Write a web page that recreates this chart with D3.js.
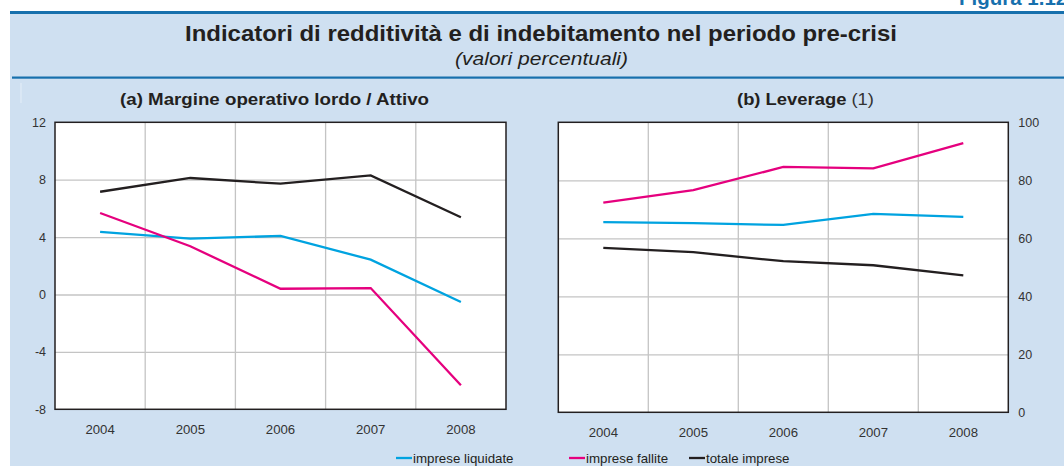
<!DOCTYPE html>
<html><head><meta charset="utf-8">
<script src="https://cdn.jsdelivr.net/npm/d3@7"></script>
<style>
html,body{margin:0;padding:0;background:#fff;}
svg{display:block;}
text{font-family:"Liberation Sans",Arial,sans-serif;}
</style></head>
<body>
<svg id="c" width="1064" height="466"></svg>
<script>
const years = ["2004","2005","2006","2007","2008"];
// (a) Margine operativo lordo / Attivo
const marginLiquidate = [4.36, 3.89, 4.08, 2.43, -0.52];
const marginFallite   = [5.68, 3.36, 0.40, 0.45, -6.33];
const marginTotale    = [7.16, 8.12, 7.72, 8.30, 5.38];
// (b) Leverage
const levLiquidate = [65.6, 65.2, 64.6, 68.4, 67.4];
const levFallite   = [72.3, 76.6, 84.6, 84.1, 92.8];
const levTotale    = [56.7, 55.2, 52.1, 50.7, 47.2];
const ticksA = [-8, -4, 0, 4, 8, 12];
const ticksB = [0, 20, 40, 60, 80, 100];
const seriesNames = ["imprese liquidate", "imprese fallite", "totale imprese"];
const colors = ["#00a3e0", "#e5007e", "#231f20"];

const svg = d3.select("#c");
const ink = "#231f20";
const blue = "#1770ad";

// header
svg.append("text").attr("x", 959).attr("y", 5).attr("font-size", 20.5).attr("font-weight", "bold")
  .attr("fill", blue).text("Figura 1.12");
svg.append("rect").attr("x", 10).attr("y", 14).attr("width", 1054).attr("height", 452).attr("fill", "#cfe0f1");
svg.append("rect").attr("x", 10).attr("y", 11).attr("width", 1054).attr("height", 3).attr("fill", blue);
svg.append("rect").attr("x", 12).attr("y", 76.5).attr("width", 1052).attr("height", 2.2).attr("fill", blue);
svg.append("line").attr("x1", 21).attr("x2", 21).attr("y1", 83).attr("y2", 103).attr("stroke", "#e4eef8").attr("stroke-width", 1);

function fitText(sel, w) {
  const n = sel.node();
  const l = n.getComputedTextLength();
  if (Math.abs(l - w) > 2) sel.attr("textLength", w).attr("lengthAdjust", "spacingAndGlyphs");
}

const t = svg.append("text").attr("x", 541).attr("y", 41).attr("text-anchor", "middle")
  .attr("font-size", 21.5).attr("font-weight", "bold").attr("fill", ink)
  .text("Indicatori di redditività e di indebitamento nel periodo pre-crisi");
fitText(t, 712);
const st = svg.append("text").attr("x", 541.5).attr("y", 65).attr("text-anchor", "middle")
  .attr("font-size", 17.5).attr("font-style", "italic").attr("fill", ink)
  .text("(valori percentuali)");
fitText(st, 173);

const pa = svg.append("text").attr("x", 274.5).attr("y", 105).attr("text-anchor", "middle")
  .attr("font-size", 16).attr("font-weight", "bold").attr("fill", ink)
  .text("(a) Margine operativo lordo / Attivo");
fitText(pa, 309);
const pb = svg.append("text").attr("x", 805.5).attr("y", 105).attr("text-anchor", "middle")
  .attr("font-size", 16).attr("fill", ink);
pb.append("tspan").attr("font-weight", "bold").text("(b) Leverage ");
pb.append("tspan").attr("fill", "#333").text("(1)");
fitText(pb, 137);

function panel(x0, x1, y0, y1, domain, ticks, data, side) {
  const x = d3.scaleBand().domain(years).range([x0, x1]).padding(0);
  const y = d3.scaleLinear().domain(domain).range([y1, y0]);
  const g = svg.append("g");
  g.append("rect").attr("x", x0).attr("y", y0).attr("width", x1 - x0).attr("height", y1 - y0).attr("fill", "#fff");
  // horizontal grid
  g.append("g").attr("transform", `translate(${x0},0)`)
    .call(d3.axisLeft(y).tickValues(ticks.slice(1, -1)).tickSize(-(x1 - x0)).tickFormat(""))
    .call(s => s.select(".domain").remove())
    .call(s => s.selectAll("line").attr("stroke", "#c4c4c4").attr("stroke-width", 1.3));
  // vertical grid at band boundaries
  g.selectAll("line.vg").data(years.slice(1)).join("line").attr("class", "vg")
    .attr("x1", d => x(d)).attr("x2", d => x(d)).attr("y1", y0).attr("y2", y1)
    .attr("stroke", "#c4c4c4").attr("stroke-width", 1.3);
  // tick labels
  const fmt = d => String(d);
  const ax = side === "left"
    ? d3.axisLeft(y).tickValues(ticks).tickSize(0).tickPadding(9).tickFormat(fmt)
    : d3.axisRight(y).tickValues(ticks).tickSize(0).tickPadding(10).tickFormat(fmt);
  g.append("g").attr("transform", `translate(${side === "left" ? x0 : x1},0)`)
    .call(ax)
    .call(s => s.select(".domain").remove())
    .call(s => s.selectAll("text").attr("font-size", 12.5).attr("fill", "#333")
      .attr("font-family", "'Liberation Sans',Arial,sans-serif"));
  g.append("g").attr("transform", `translate(0,${y1})`)
    .call(d3.axisBottom(x).tickSize(0).tickPadding(15))
    .call(s => s.select(".domain").remove())
    .call(s => s.selectAll("text").attr("font-size", 13.2).attr("fill", "#333")
      .attr("font-family", "'Liberation Sans',Arial,sans-serif"));
  // lines
  const line = d3.line().x((d, i) => x(years[i]) + x.bandwidth() / 2).y(d => y(d));
  data.forEach((vals, k) => {
    g.append("path").attr("d", line(vals)).attr("fill", "none").attr("stroke", colors[k])
      .attr("stroke-width", 2.3).attr("stroke-linejoin", "miter");
  });
  g.append("rect").attr("x", x0).attr("y", y0).attr("width", x1 - x0).attr("height", y1 - y0)
    .attr("fill", "none").attr("stroke", ink).attr("stroke-width", 1.5);
}

panel(55, 506, 122.3, 409.3, [-8, 12], ticksA, [marginLiquidate, marginFallite, marginTotale], "left");
panel(558.3, 1008.3, 122.3, 412.3, [0, 100], ticksB, [levLiquidate, levFallite, levTotale], "right");

// legend
const legX = [396, 569, 689];
const legW = [101, 81, 83];
seriesNames.forEach((n, i) => {
  svg.append("line").attr("x1", legX[i]).attr("x2", legX[i] + 16).attr("y1", 458).attr("y2", 458)
    .attr("stroke", colors[i]).attr("stroke-width", 2.3);
  const lt = svg.append("text").attr("x", legX[i] + 17).attr("y", 462.5).attr("font-size", 13.3)
    .attr("fill", ink).text(n);
  fitText(lt, legW[i]);
});
</script>
</body></html>
